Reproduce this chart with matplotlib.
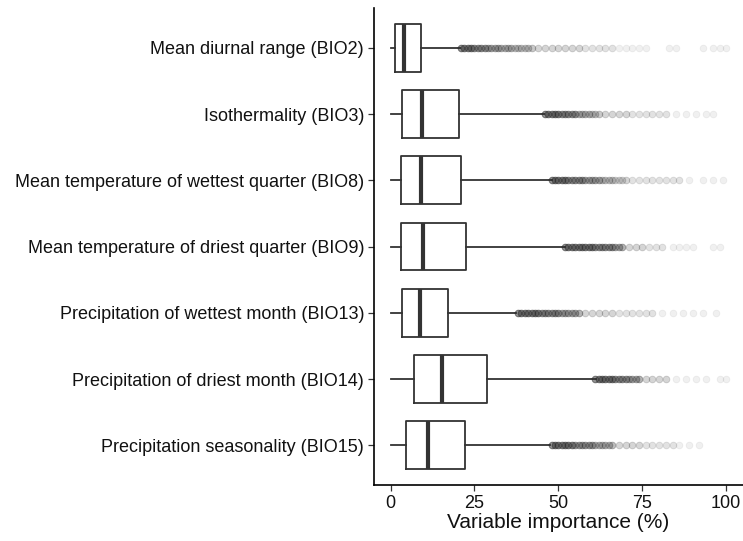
import numpy as np
import matplotlib
matplotlib.use("Agg")
import matplotlib.pyplot as plt

plt.rcParams["font.family"] = ["Liberation Sans", "DejaVu Sans"]

# Bioclimatic predictors, top to bottom
LABELS = [
    "Mean diurnal range (BIO2)",
    "Isothermality (BIO3)",
    "Mean temperature of wettest quarter (BIO8)",
    "Mean temperature of driest quarter (BIO9)",
    "Precipitation of wettest month (BIO13)",
    "Precipitation of driest month (BIO14)",
    "Precipitation seasonality (BIO15)",
]

# Box summaries (variable importance, %)
WHIS_LO = [0.0, 0.0, 0.0, 0.0, 0.0, 0.0, 0.0]
Q1 = [1.2, 3.4, 3.0, 3.0, 3.4, 7.1, 4.7]
MEDIAN = [3.9, 9.4, 9.2, 9.7, 8.7, 15.4, 11.3]
Q3 = [9.2, 20.4, 21.1, 22.6, 17.2, 28.8, 22.1]
WHIS_HI = [20.8, 45.7, 48.0, 52.0, 37.5, 61.2, 47.5]

# Outlying values and how many runs landed on each
BIO2_OUT = [21, 22, 23, 24, 25, 26, 27, 28, 29, 30, 31, 32, 33, 34, 35, 36, 37, 38, 39, 40, 41, 42,
            44, 46, 48, 50, 52, 54, 56, 58, 60, 62, 64, 66, 68, 70, 72, 74, 76,
            83, 85, 93, 96, 98, 100]
BIO2_N = [10, 10, 10, 10, 8, 8, 8, 8, 6, 6, 6, 6, 5, 5, 5, 5, 4, 4, 4, 4, 4, 4,
          3, 3, 3, 3, 3, 3, 3, 2, 2, 2, 2, 2, 1, 1, 1, 1, 1,
          1, 1, 1, 1, 1, 1]
BIO3_OUT = [46, 47, 48, 49, 50, 51, 52, 53, 54, 55, 56, 57, 58, 59, 60, 61, 62,
            64, 66, 68, 70, 72, 74, 76, 78, 80, 82,
            85, 88, 91, 94, 96]
BIO3_N = [10, 10, 10, 10, 10, 8, 8, 8, 8, 8, 5, 5, 5, 5, 4, 4, 4,
          3, 3, 3, 3, 2, 2, 2, 2, 2, 2,
          1, 1, 1, 1, 1]
BIO8_OUT = [48, 49, 50, 51, 52, 53, 54, 55, 56, 57, 58, 59, 60, 61, 62, 63, 64, 65, 66, 67, 68, 69, 70,
            72, 74, 76, 78, 80, 82, 84, 86,
            89, 93, 96, 99]
BIO8_N = [10, 10, 10, 10, 10, 8, 8, 8, 8, 8, 6, 6, 6, 6, 6, 4, 4, 4, 4, 3, 3, 3, 3,
          2, 2, 2, 2, 2, 2, 2, 2,
          1, 1, 1, 1]
BIO9_OUT = [52, 53, 54, 55, 56, 57, 58, 59, 60, 61, 62, 63, 64, 65, 66, 67, 68, 69,
            71, 73, 75, 77, 79, 81,
            84, 86, 88, 90, 96, 98]
BIO9_N = [10, 10, 10, 10, 10, 10, 10, 10, 10, 8, 8, 8, 8, 8, 8, 6, 6, 6,
          3, 3, 3, 2, 2, 2,
          1, 1, 1, 1, 1, 1]
BIO13_OUT = [38, 39, 40, 41, 42, 43, 44, 45, 46, 47, 48, 49, 50, 51, 52, 53, 54, 55, 56,
             58, 60, 62, 64, 66, 68, 70, 72, 74, 76, 78,
             81, 84, 87, 90, 93, 97]
BIO13_N = [10, 10, 10, 10, 10, 10, 10, 8, 8, 8, 8, 8, 8, 6, 6, 6, 6, 6, 6,
           3, 3, 3, 3, 3, 2, 2, 2, 2, 2, 2,
           1, 1, 1, 1, 1, 1]
BIO14_OUT = [61, 62, 63, 64, 65, 66, 67, 68, 69, 70, 71, 72, 73, 74,
             76, 78, 80, 82,
             85, 88, 91, 94, 98, 100]
BIO14_N = [10, 10, 10, 10, 10, 10, 8, 8, 8, 8, 6, 6, 6, 6,
           3, 3, 3, 3,
           1, 1, 1, 1, 1, 1]
BIO15_OUT = [48, 49, 50, 51, 52, 53, 54, 55, 56, 57, 58, 59, 60, 61, 62, 63, 64, 65, 66,
             68, 70, 72, 74, 76, 78, 80, 82, 84,
             86, 89, 92]
BIO15_N = [10, 10, 10, 10, 10, 10, 10, 7, 7, 7, 7, 7, 7, 5, 5, 5, 5, 5, 5,
           3, 3, 3, 3, 2, 2, 2, 2, 2,
           1, 1, 1]

OUTLIERS = [BIO2_OUT, BIO3_OUT, BIO8_OUT, BIO9_OUT, BIO13_OUT, BIO14_OUT, BIO15_OUT]
COUNTS = [BIO2_N, BIO3_N, BIO8_N, BIO9_N, BIO13_N, BIO14_N, BIO15_N]

EDGE = "#333333"

fig = plt.figure(figsize=(7.43, 5.41), dpi=100)
ax = fig.add_axes([0.503, 0.1035, 0.497, 0.8815])

stats = []
for i in range(len(LABELS)):
    stats.append(dict(
        whislo=WHIS_LO[i], q1=Q1[i], med=MEDIAN[i], q3=Q3[i], whishi=WHIS_HI[i],
        fliers=np.repeat(OUTLIERS[i], COUNTS[i]),
    ))

# first label sits at the top
positions = np.arange(len(LABELS), 0, -1)
ax.bxp(
    stats, positions=positions, vert=False, widths=0.72, showcaps=False,
    boxprops=dict(color=EDGE, linewidth=1.3),
    whiskerprops=dict(color=EDGE, linewidth=1.3),
    medianprops=dict(color=EDGE, linewidth=3.0, solid_capstyle="butt"),
    flierprops=dict(marker="o", markersize=4.8, markerfacecolor="#333333",
                    markeredgecolor="#333333", markeredgewidth=0.6, alpha=0.07,
                    linestyle="none"),
)

ax.set_xlim(-5, 105)
ax.set_ylim(0.4, len(LABELS) + 0.6)
ax.set_xticks([0, 25, 50, 75, 100])
ax.set_xticklabels(["0", "25", "50", "75", "100"])
ax.set_yticks(positions)
ax.set_yticklabels(LABELS)
ax.tick_params(axis="both", direction="out", length=4, width=0.9, color=EDGE,
               labelsize=13, labelcolor="#111111", pad=3)
ax.set_xlabel("Variable importance (%)", fontsize=15, color="#111111", labelpad=1)

for side in ("top", "right"):
    ax.spines[side].set_visible(False)
for side in ("left", "bottom"):
    ax.spines[side].set_linewidth(1.2)
    ax.spines[side].set_color("black")

fig.savefig("out.png", dpi=100)
